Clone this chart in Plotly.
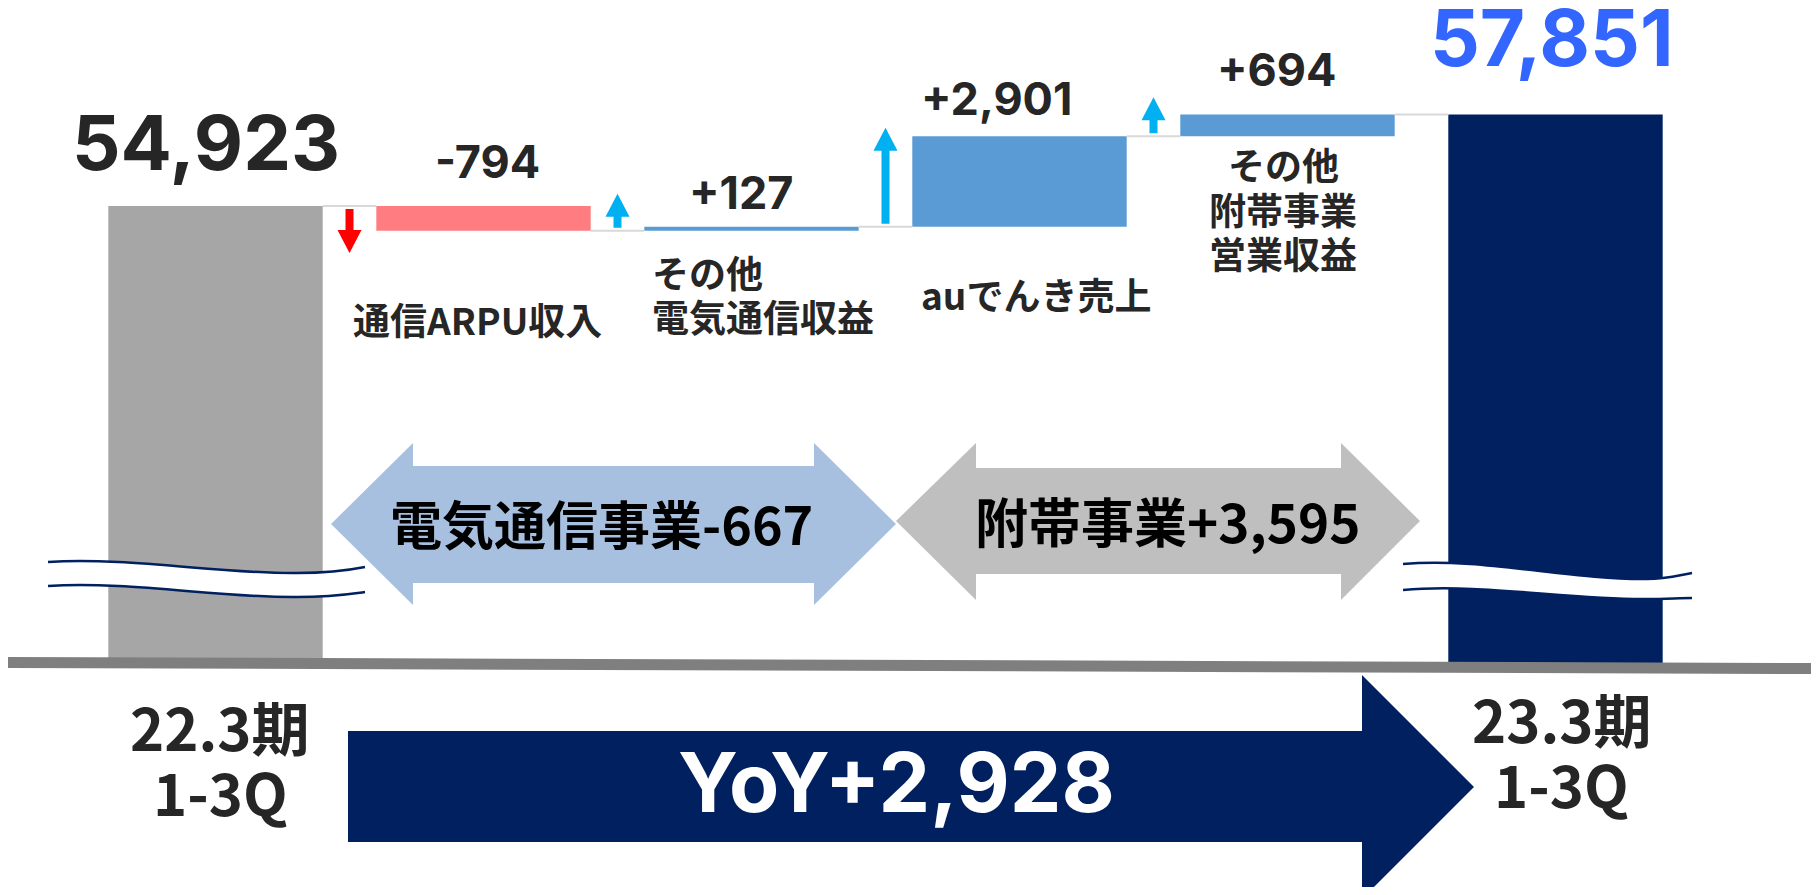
import plotly.graph_objects as go

# ---------------- data ----------------
period_labels = [("22.3期", "1-3Q"), ("23.3期", "1-3Q")]
start_value = 54923
end_value = 57851
step_labels = [["通信ARPU収入"], ["その他", "電気通信収益"], ["auでんき売上"], ["その他", "附帯事業", "営業収益"]]
step_values = [-794, 127, 2901, 694]
segment_labels = ["電気通信事業", "附帯事業"]
segment_values = [-667, 3595]
yoy_value = 2928

# ---------------- layout constants ----------------
PAGE_W, PAGE_H = 1819, 895
M = 8                                   # browser body margin
W, H = PAGE_W - 2 * M, PAGE_H - 2 * M
X_RANGE = [-0.7743, 5.9534]
Y_RANGE = [33131, 61259]
AXIS_FLOOR = 40300                      # broken-axis floor where total bars start
FONT = "Noto Sans CJK JP"
NUM_FONT = "Inter"
DARK = "#262626"
NAVY = "#002060"

DX = (X_RANGE[1] - X_RANGE[0]) / W     # data units per pixel (x)
DY = (Y_RANGE[1] - Y_RANGE[0]) / H     # data units per pixel (y)


def paper(px, py):
    """Page pixel (reference coordinates) -> paper coordinates."""
    return (px - M) / W, 1 - (py - M) / H


def ppath(cmds):
    out = []
    for cmd, pts in cmds:
        if cmd == "Z":
            out.append("Z")
            continue
        coords = []
        for (px, py) in pts:
            x, y = paper(px, py)
            coords.append(f"{x:.5f},{y:.5f}")
        out.append(cmd + " " + " ".join(coords))
    return " ".join(out)


# ---------------- derived waterfall geometry ----------------
levels = [start_value]
for s in step_values:
    levels.append(levels[-1] + s)

n_steps = len(step_values)
xs = list(range(n_steps + 2))
bases = [AXIS_FLOOR] + [min(levels[k], levels[k + 1]) for k in range(n_steps)] + [AXIS_FLOOR]
heights = [start_value - AXIS_FLOOR] + [abs(s) for s in step_values] + [end_value - AXIS_FLOOR]
colors = ["#A6A6A6"] + ["#FF7C80" if s < 0 else "#5B9BD5" for s in step_values] + [NAVY]
tops = [start_value] + [max(levels[k], levels[k + 1]) for k in range(n_steps)] + [end_value]

BAR_W = 0.8

fig = go.Figure()

# connectors
cx, cy = [], []
for i in range(n_steps + 1):
    cx += [i + BAR_W / 2, i + 1 - BAR_W / 2, None]
    cy += [levels[i], levels[i], None]
fig.add_trace(go.Scatter(x=cx, y=cy, mode="lines", line=dict(color="#D9D9D9", width=2),
                         hoverinfo="skip"))

fig.add_trace(go.Bar(x=xs, y=heights, base=bases, width=BAR_W,
                     marker=dict(color=colors, line=dict(width=0)), hoverinfo="skip"))

shapes = []

# small direction arrows between bars (data coordinates)
ARROW_LEN_PX = [44, 34, 96, 36]
SHAFT_HALF = 4 * DX
HEAD_HALF = 12 * DX
HEAD_H = 23 * DY
for k, s in enumerate(step_values):
    xc = k + 0.5
    sign = 1 if s > 0 else -1
    y0 = levels[k] + sign * 3 * DY
    y1 = y0 + sign * ARROW_LEN_PX[k] * DY
    yh = y1 - sign * HEAD_H
    path = (f"M {xc - SHAFT_HALF},{y0} L {xc - SHAFT_HALF},{yh} L {xc - HEAD_HALF},{yh} "
            f"L {xc},{y1} L {xc + HEAD_HALF},{yh} L {xc + SHAFT_HALF},{yh} L {xc + SHAFT_HALF},{y0} Z")
    shapes.append(dict(type="path", xref="x", yref="y", path=path,
                       fillcolor="#FF0000" if s < 0 else "#00B0F0", line=dict(width=0)))


# wavy axis-break marks
def wave(upper, lower):
    band = [("M", [upper[0]])]
    for seg in upper[1:]:
        band.append(("C", list(seg)))
    band.append(("L", [lower[-1][2]]))
    pts = [lower[0]] + [seg[2] for seg in lower[1:]]
    for j in range(len(lower) - 1, 0, -1):
        c1, c2, _ = lower[j]
        band.append(("C", [c2, c1, pts[j - 1]]))
    band.append(("Z", []))
    shapes.append(dict(type="path", xref="paper", yref="paper", path=ppath(band),
                       fillcolor="white", line=dict(width=0)))
    for curve in (upper, lower):
        cmds = [("M", [curve[0]])] + [("C", list(seg)) for seg in curve[1:]]
        shapes.append(dict(type="path", xref="paper", yref="paper", path=ppath(cmds),
                           line=dict(color=NAVY, width=2.5)))


wave([(48, 562), ((130, 557), (220, 574), (297, 573)), ((330, 573), (350, 570), (365, 567))],
     [(48, 586), ((130, 581), (220, 598), (297, 597)), ((330, 597), (350, 594), (365, 592))])
wave([(1403, 564), ((1480, 557), (1570, 580), (1647, 579)), ((1665, 579), (1680, 575), (1692, 573))],
     [(1403, 590), ((1480, 583), (1570, 600), (1647, 599)), ((1665, 599), (1680, 598), (1692, 598))])

# baseline
bx0, by0 = paper(6, 662.5)
bx1, by1 = paper(1812, 668.5)
shapes.append(dict(type="line", xref="paper", yref="paper", x0=bx0, y0=by0, x1=bx1, y1=by1,
                   line=dict(color="#7F7F7F", width=11)))


# double-headed segment arrows
def double_arrow(xl, xhl, xhr, xr, yc, head_top, head_bot, sh_top, sh_bot, color):
    cmds = [("M", [(xl, yc)]), ("L", [(xhl, head_top)]), ("L", [(xhl, sh_top)]), ("L", [(xhr, sh_top)]),
            ("L", [(xhr, head_top)]), ("L", [(xr, yc)]), ("L", [(xhr, head_bot)]), ("L", [(xhr, sh_bot)]),
            ("L", [(xhl, sh_bot)]), ("L", [(xhl, head_bot)]), ("Z", [])]
    shapes.append(dict(type="path", xref="paper", yref="paper", path=ppath(cmds),
                       fillcolor=color, line=dict(width=0)))


double_arrow(331, 413, 814, 896, 524, 443, 605, 466, 583, "#A8C0DF")
double_arrow(896, 976, 1341, 1420, 521, 443, 600, 468, 574, "#BFBFBF")

# YoY arrow
yoy_cmds = [("M", [(348, 731)]), ("L", [(1362, 731)]), ("L", [(1362, 675)]), ("L", [(1474, 787)]),
            ("L", [(1362, 899)]), ("L", [(1362, 842)]), ("L", [(348, 842)]), ("Z", [])]
shapes.append(dict(type="path", xref="paper", yref="paper", path=ppath(yoy_cmds),
                   fillcolor=NAVY, line=dict(width=0)))

annotations = []


def fnt(size, color=DARK, family=FONT):
    return dict(family=family, size=size, color=color, weight="bold")


def corr(size, family):
    return 0.07 * size if family == FONT else 0.0


def text_paper(text, px, py_mid, size, color=DARK, family=FONT):
    x, y = paper(px, py_mid - corr(size, family))
    annotations.append(dict(text=text, x=x, y=y, xref="paper", yref="paper", xanchor="center",
                            yanchor="middle", showarrow=False, font=fnt(size, color, family)))


def text_data(text, xd, xshift, py_mid, size, color=DARK, xanchor="center", family=FONT):
    _, y = paper(0, py_mid - corr(size, family))
    annotations.append(dict(text=text, x=xd, y=y, xref="x", yref="paper", xshift=xshift,
                            xanchor=xanchor, yanchor="middle", showarrow=False,
                            font=fnt(size, color, family)))


# value labels above bars: (xshift px, rise above bar top px, size)
VALUE_STYLE = [(-9.5, 64, 76), (4, 44.5, 45), (-11, 34, 45), (-23.5, 37.5, 45), (-11.5, 45.5, 45), (-3.5, 77, 78)]
value_texts = [f"{start_value:,}"] + [f"{s:+,}" for s in step_values] + [f"{end_value:,}"]
value_colors = [DARK] * (n_steps + 1) + ["#3366FF"]
for i, t in enumerate(value_texts):
    xs_, rise, size = VALUE_STYLE[i]
    annotations.append(dict(text=t, x=i, y=tops[i], xref="x", yref="y", xshift=xs_,
                            yshift=rise, xanchor="center", yanchor="middle",
                            showarrow=False, font=fnt(size, value_colors[i], NUM_FONT)))

# category labels for steps: (x data, xshift, [line mids], anchor)
CAT_STYLE = [(1, -6, [322], "center"), (2 - BAR_W / 2, 5.5, [275, 319], "left"),
             (3, 16.5, [297], "center"), (4, -4.5, [166.5, 212, 256], "center")]
for k, lines in enumerate(step_labels):
    xd, xsh, mids, anc = CAT_STYLE[k]
    for line, ym in zip(lines, mids):
        text_data(line, xd, xsh, ym, 37, xanchor=anc)

# period labels under total bars
PERIOD_STYLE = [(0, 4.5, 730, 795), (n_steps + 1, 6.5, 722, 787)]
for (l1, l2), (xd, xsh, y1, y2) in zip(period_labels, PERIOD_STYLE):
    text_data(l1, xd, xsh, y1, 58)
    text_data(l2, xd, xsh, y2, 58)

# segment arrow labels
text_paper(f"{segment_labels[0]}{segment_values[0]:+,}", 601, 526, 52, "#000000")
text_paper(f"{segment_labels[1]}{segment_values[1]:+,}", 1168, 524, 53, "#000000")

# YoY label
text_paper(f"YoY{yoy_value:+,}", 896, 782, 82, "white", NUM_FONT)

fig.update_layout(
    width=W, height=H, margin=dict(l=0, r=0, t=0, b=0, pad=0),
    paper_bgcolor="white", plot_bgcolor="white", showlegend=False,
    xaxis=dict(range=X_RANGE, visible=False, fixedrange=True),
    yaxis=dict(range=Y_RANGE, visible=False, fixedrange=True),
    shapes=shapes, annotations=annotations,
    font=dict(family=FONT),
)

fig.write_html("out.html")
